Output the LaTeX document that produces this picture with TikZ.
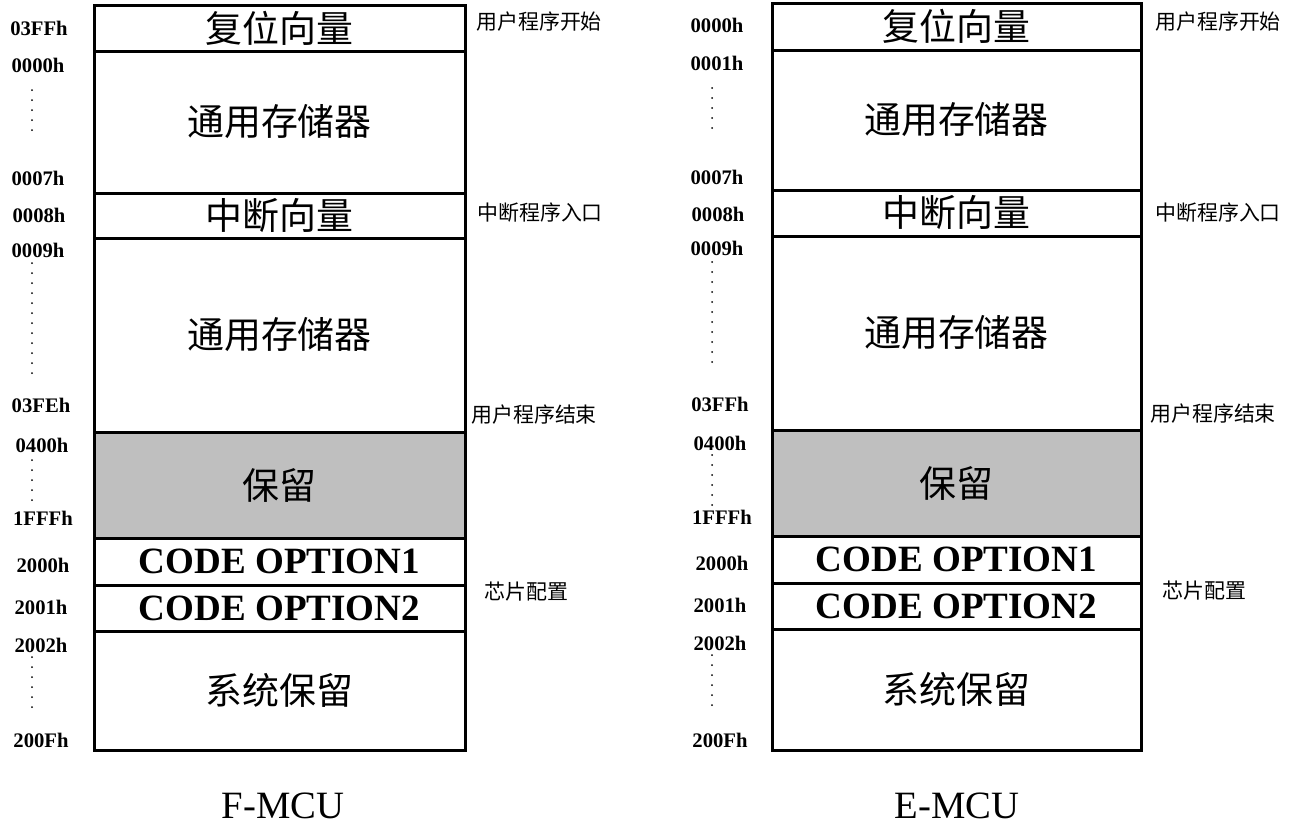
\documentclass[tikz,border=0pt]{standalone}
\usepackage{fontspec}
\setmainfont{Liberation Serif}
\newfontfamily\cjk{Noto Sans CJK SC}
\usetikzlibrary{fit}
\begin{document}
\begin{tikzpicture}[x=0.75pt,y=-0.75pt,
  blk/.style={draw=black,line width=2.25pt,inner sep=0pt,outer sep=0pt},
  gray/.style={fill=black!25},
  txt/.style={font=\cjk\fontsize{27.7}{30}\selectfont,inner sep=0pt},
  code/.style={font=\bfseries\fontsize{27.8}{30}\selectfont,inner sep=0pt},
  addr/.style={font=\bfseries\fontsize{15.5}{17}\selectfont,inner sep=0pt},
  note/.style={font=\cjk\fontsize{15.7}{17}\selectfont,anchor=west,inner sep=0pt},
  title/.style={font=\fontsize{29}{32}\selectfont,inner sep=0pt},
  dotline/.style={line width=1.5pt,line cap=round,dash pattern=on 0pt off 7.5pt}]
\useasboundingbox (0,0) rectangle (1297,832);
% ---------- left column ----------
\node[blk,fit={(94,5)(465,51)}] (L1) {};
\node[blk,fit={(94,51)(465,193)}] (L2) {};
\node[blk,fit={(94,193)(465,238)}] (L3) {};
\node[blk,fit={(94,238)(465,432)}] (L4) {};
\node[blk,gray,fit={(94,432)(465,538)}] (L5) {};
\node[blk,fit={(94,538)(465,585)}] (L6) {};
\node[blk,fit={(94,585)(465,631)}] (L7) {};
\node[blk,fit={(94,631)(465,750)}] (L8) {};
\node[txt] (L1t) at (L1.center) {复位向量};
\node[txt] (L2t) at (L2.center) {通用存储器};
\node[txt] (L3t) at (L3.center) {中断向量};
\node[txt] (L4t) at (L4.center) {通用存储器};
\node[txt] (L5t) at (L5.center) {保留};
\node[code] (L6t) at (L6.center) {CODE OPTION1};
\node[code] (L7t) at (L7.center) {CODE OPTION2};
\node[txt] (L8t) at (L8.center) {系统保留};
\node[addr] (la1) at (39,28) {03FFh};
\node[addr] (la2) at (38,65) {0000h};
\node[addr] (la3) at (38,178) {0007h};
\node[addr] (la4) at (39,215) {0008h};
\node[addr] (la5) at (38,250) {0009h};
\node[addr] (la6) at (41,405) {03FEh};
\node[addr] (la7) at (42,445) {0400h};
\node[addr] (la8) at (43,518) {1FFFh};
\node[addr] (la9) at (43,565) {2000h};
\node[addr] (la10) at (41,607) {2001h};
\node[addr] (la11) at (41,645) {2002h};
\node[addr] (la12) at (41,740) {200Fh};
\draw[dotline] (32,90) -- (32,140);
\draw[dotline] (32,263) -- (32,375);
\draw[dotline] (32,460) -- (32,508);
\draw[dotline] (32,657) -- (32,710);
\node[note] (ln1) at (476,22) {用户程序开始};
\node[note] (ln2) at (477,213) {中断程序入口};
\node[note] (ln3) at (471,415) {用户程序结束};
\node[note] (ln4) at (484,592) {芯片配置};
\node[title] (lt) at (283,806) {F-MCU};
% ---------- right column ----------
\node[blk,fit={(772,3)(1141,50)}] (R1) {};
\node[blk,fit={(772,50)(1141,190)}] (R2) {};
\node[blk,fit={(772,190)(1141,236)}] (R3) {};
\node[blk,fit={(772,236)(1141,430)}] (R4) {};
\node[blk,gray,fit={(772,430)(1141,536)}] (R5) {};
\node[blk,fit={(772,536)(1141,583)}] (R6) {};
\node[blk,fit={(772,583)(1141,629)}] (R7) {};
\node[blk,fit={(772,629)(1141,750)}] (R8) {};
\node[txt] (R1t) at (R1.center) {复位向量};
\node[txt] (R2t) at (R2.center) {通用存储器};
\node[txt] (R3t) at (R3.center) {中断向量};
\node[txt] (R4t) at (R4.center) {通用存储器};
\node[txt] (R5t) at (R5.center) {保留};
\node[code] (R6t) at (R6.center) {CODE OPTION1};
\node[code] (R7t) at (R7.center) {CODE OPTION2};
\node[txt] (R8t) at (R8.center) {系统保留};
\node[addr] (ra1) at (717,25) {0000h};
\node[addr] (ra2) at (717,63) {0001h};
\node[addr] (ra3) at (717,177) {0007h};
\node[addr] (ra4) at (718,214) {0008h};
\node[addr] (ra5) at (717,248) {0009h};
\node[addr] (ra6) at (720,404) {03FFh};
\node[addr] (ra7) at (720,443) {0400h};
\node[addr] (ra8) at (722,517) {1FFFh};
\node[addr] (ra9) at (722,563) {2000h};
\node[addr] (ra10) at (720,605) {2001h};
\node[addr] (ra11) at (720,643) {2002h};
\node[addr] (ra12) at (720,740) {200Fh};
\draw[dotline] (712,88) -- (712,138);
\draw[dotline] (712,262) -- (712,372);
\draw[dotline] (712,455) -- (712,507);
\draw[dotline] (712,655) -- (712,708);
\node[note] (rn1) at (1155,22) {用户程序开始};
\node[note] (rn2) at (1155,213) {中断程序入口};
\node[note] (rn3) at (1150,414) {用户程序结束};
\node[note] (rn4) at (1162,591) {芯片配置};
\node[title] (rt) at (957,806) {E-MCU};
\end{tikzpicture}
\end{document}
